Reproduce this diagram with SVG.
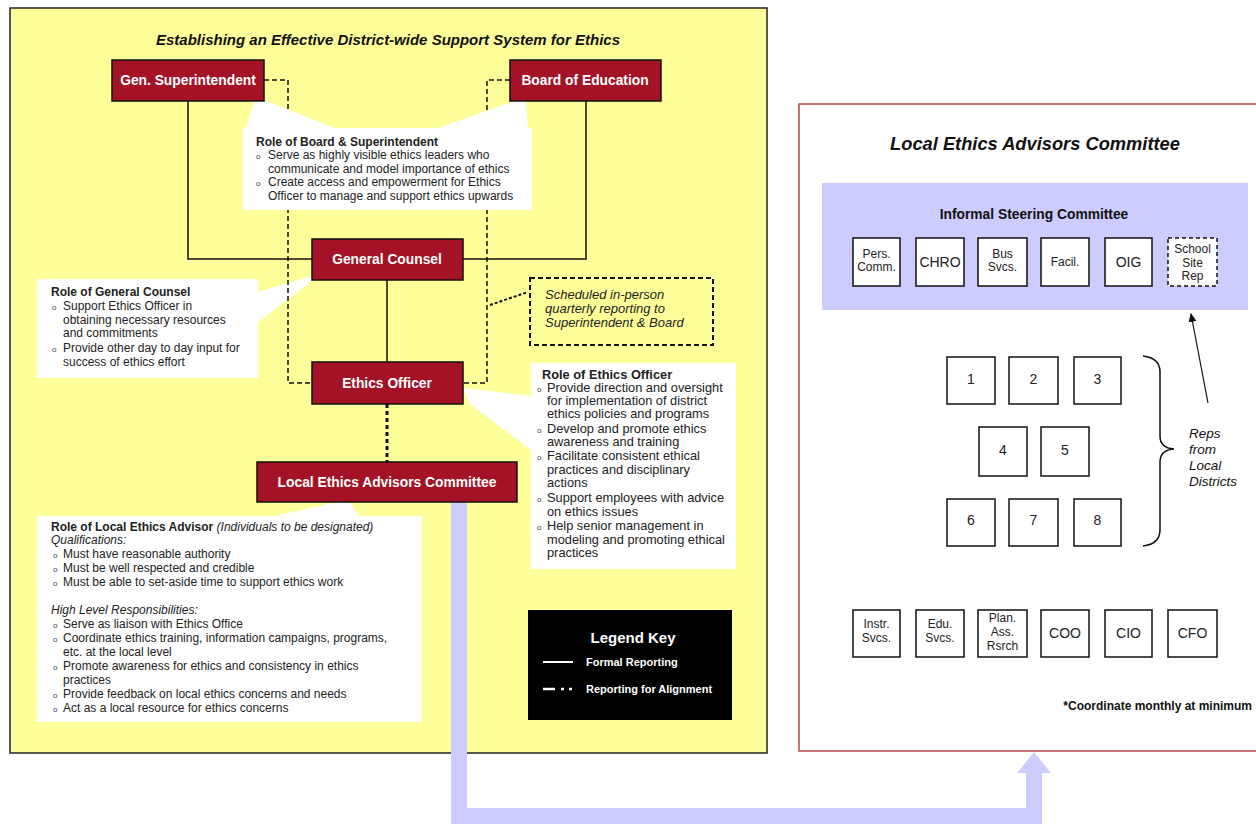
<svg xmlns="http://www.w3.org/2000/svg" width="1256" height="824" viewBox="0 0 1256 824">
<style>
text{font-family:"Liberation Sans",Arial,sans-serif;fill:#111}
.nodeR rect{fill:#A31225;stroke:#111;stroke-width:1.5}
.nodeR text{fill:#fff;font-weight:bold;font-size:13.8px;text-anchor:middle}
.note{fill:#fff}
.t{font-size:12px;fill:#222}
.te{font-size:12.8px;fill:#222}
.b{font-weight:bold}
.i{font-style:italic}
.bul{font-size:8px;fill:#444}
.sq rect{fill:#fff;stroke:#111;stroke-width:1.5}
.sq text{text-anchor:middle;font-size:12px;fill:#222}
.num{font-size:14px!important}
.big{font-size:14px!important}
.solid{fill:none;stroke:#111;stroke-width:1.5}
.dash{fill:none;stroke:#111;stroke-width:1.5;stroke-dasharray:5 3}
</style>
<defs>
<marker id="ah" markerWidth="10" markerHeight="10" refX="8" refY="5" orient="auto" markerUnits="userSpaceOnUse"><path d="M0,1 L9,5 L0,9 Z" fill="#111"/></marker>
</defs>
<rect width="1256" height="824" fill="#fff"/>
<!-- left panel -->
<rect id="panel-left" x="10" y="8" width="757" height="745" fill="#FFFF99" stroke="#222" stroke-width="1.5"/>
<text x="388" y="45" text-anchor="middle" class="b i" font-size="15">Establishing an Effective District-wide Support System for Ethics</text>
<!-- right panel -->
<rect id="panel-right" x="799" y="104" width="470" height="647" fill="#fff" stroke="#C0404A" stroke-width="1.5"/>
<text x="1035" y="150" text-anchor="middle" class="i" font-size="18.3" font-weight="bold">Local Ethics Advisors Committee</text>
<rect x="822" y="183" width="426" height="127" fill="#CCCCFF"/>
<text x="1034" y="219" text-anchor="middle" class="b" font-size="13.8">Informal Steering Committee</text>

<!-- notes under connectors -->
<g id="note-gc">
<polygon class="note" points="312,276 312,281 257,323 257,292"/>
<rect class="note" x="37" y="279" width="221" height="99"/>
<text x="51" y="296" class="t b">Role of General Counsel</text>
<text x="52" y="310" class="bul">o</text><text x="63" y="310" class="t">Support Ethics Officer in</text>
<text x="63" y="324" class="t">obtaining necessary resources</text>
<text x="63" y="337" class="t">and commitments</text>
<text x="52" y="352" class="bul">o</text><text x="63" y="352" class="t">Provide other day to day input for</text>
<text x="63" y="366" class="t">success of ethics effort</text>
</g>

<!-- connectors -->
<g id="connectors">
<polyline class="solid" points="188,101 188,259 312,259"/>
<polyline class="solid" points="586,101 586,259 463,259"/>
<line class="solid" x1="387" y1="280" x2="387" y2="362"/>
<polyline class="dash" points="264,80 288,80 288,383 312,383"/>
<polyline class="dash" points="510,80 487,80 487,383 463,383"/>
<line x1="387" y1="404" x2="387" y2="462" stroke="#111" stroke-width="3" stroke-dasharray="4 3"/>
<line x1="490" y1="305" x2="528" y2="292" stroke="#111" stroke-width="2" stroke-dasharray="3 2"/>
<path d="M459,502 V816 H1034 V772" fill="none" stroke="#CCCCFF" stroke-width="16"/>
<polygon points="1017,773 1051,773 1034,752" fill="#CCCCFF"/>
<line x1="1208" y1="403" x2="1191" y2="314" stroke="#111" stroke-width="1.2" marker-end="url(#ah)"/>
<path d="M1143,356 Q1160,358 1160,372 V436 Q1160,448 1174,449 Q1160,450 1160,462 V530 Q1160,544 1143,546" fill="none" stroke="#111" stroke-width="1.5"/>
</g>

<!-- callout notes -->
<g id="note-board">
<polygon class="note" points="254,101 266,101 335,128 246,128"/>
<polygon class="note" points="514,101 526,101 528,128 438,128"/>
<rect class="note" x="243" y="128" width="289" height="82"/>
<text x="256" y="146" class="t b">Role of Board &amp; Superintendent</text>
<text x="256" y="159" class="bul">o</text><text x="268" y="159" class="t">Serve as highly visible ethics leaders who</text>
<text x="268" y="173" class="t">communicate and model importance of ethics</text>
<text x="256" y="186" class="bul">o</text><text x="268" y="186" class="t">Create access and empowerment for Ethics</text>
<text x="268" y="200" class="t">Officer to manage and support ethics upwards</text>
</g>
<g id="note-eo">
<polygon class="note" points="463,388 531,396 531,450 470,404"/>
<rect class="note" x="531" y="363" width="205" height="206"/>
<text x="542" y="379" class="te b">Role of Ethics Officer</text>
<text x="537" y="392" class="bul">o</text><text x="547" y="392" class="te">Provide direction and oversight</text>
<text x="547" y="405" class="te">for implementation of district</text>
<text x="547" y="418" class="te">ethics policies and programs</text>
<text x="537" y="433" class="bul">o</text><text x="547" y="433" class="te">Develop and promote ethics</text>
<text x="547" y="446" class="te">awareness and training</text>
<text x="537" y="460" class="bul">o</text><text x="547" y="460" class="te">Facilitate consistent ethical</text>
<text x="547" y="474" class="te">practices and disciplinary</text>
<text x="547" y="487" class="te">actions</text>
<text x="537" y="502" class="bul">o</text><text x="547" y="502" class="te">Support employees with advice</text>
<text x="547" y="516" class="te">on ethics issues</text>
<text x="537" y="530" class="bul">o</text><text x="547" y="530" class="te">Help senior management in</text>
<text x="547" y="544" class="te">modeling and promoting ethical</text>
<text x="547" y="557" class="te">practices</text>
</g>
<g id="note-lea">
<polygon class="note" points="337,502 349,502 360,517 270,517"/>
<rect class="note" x="37" y="516" width="385" height="206"/>
<text x="51" y="531" class="t"><tspan class="b">Role of Local Ethics Advisor</tspan><tspan class="i"> (Individuals to be designated)</tspan></text>
<text x="51" y="544" class="t i">Qualifications:</text>
<text x="53" y="558" class="bul">o</text><text x="63" y="558" class="t">Must have reasonable authority</text>
<text x="53" y="572" class="bul">o</text><text x="63" y="572" class="t">Must be well respected and credible</text>
<text x="53" y="586" class="bul">o</text><text x="63" y="586" class="t">Must be able to set-aside time to support ethics work</text>
<text x="51" y="614" class="t i">High Level Responsibilities:</text>
<text x="53" y="628" class="bul">o</text><text x="63" y="628" class="t">Serve as liaison with Ethics Office</text>
<text x="53" y="642" class="bul">o</text><text x="63" y="642" class="t">Coordinate ethics training, information campaigns, programs,</text>
<text x="63" y="656" class="t">etc. at the local level</text>
<text x="53" y="670" class="bul">o</text><text x="63" y="670" class="t">Promote awareness for ethics and consistency in ethics</text>
<text x="63" y="684" class="t">practices</text>
<text x="53" y="698" class="bul">o</text><text x="63" y="698" class="t">Provide feedback on local ethics concerns and needs</text>
<text x="53" y="712" class="bul">o</text><text x="63" y="712" class="t">Act as a local resource for ethics concerns</text>
</g>
<g id="note-scheduled">
<rect x="530" y="278" width="183" height="67" fill="none" stroke="#111" stroke-width="2" stroke-dasharray="5 3"/>
<text x="545" y="299" class="i" font-size="13" style="fill:#222">Scheduled in-person</text>
<text x="545" y="313" class="i" font-size="13" style="fill:#222">quarterly reporting to</text>
<text x="545" y="327" class="i" font-size="13" style="fill:#222">Superintendent &amp; Board</text>
</g>

<!-- red nodes -->
<g id="gen-superintendent" class="nodeR"><rect x="112" y="60" width="152" height="41"/><text x="188" y="85">Gen. Superintendent</text></g>
<g id="board-of-education" class="nodeR"><rect x="510" y="60" width="151" height="41"/><text x="585" y="85">Board of Education</text></g>
<g id="general-counsel" class="nodeR"><rect x="312" y="239" width="151" height="41"/><text x="387" y="264">General Counsel</text></g>
<g id="ethics-officer" class="nodeR"><rect x="312" y="362" width="151" height="42"/><text x="387" y="388">Ethics Officer</text></g>
<g id="local-ethics-advisors-committee" class="nodeR"><rect x="257" y="462" width="260" height="40"/><text x="387" y="487">Local Ethics Advisors Committee</text></g>

<!-- legend -->
<g id="legend">
<rect x="528" y="610" width="204" height="110" fill="#000"/>
<text x="633" y="643" text-anchor="middle" font-size="15" font-weight="bold" style="fill:#fff">Legend Key</text>
<line x1="543" y1="662" x2="573" y2="662" stroke="#fff" stroke-width="2"/>
<text x="586" y="666" font-size="11" font-weight="bold" style="fill:#fff">Formal Reporting</text>
<line x1="543" y1="689" x2="555" y2="689" stroke="#fff" stroke-width="2.5"/>
<line x1="561" y1="689" x2="564" y2="689" stroke="#fff" stroke-width="2.5"/>
<line x1="569" y1="689" x2="572" y2="689" stroke="#fff" stroke-width="2.5"/>
<text x="586" y="693" font-size="11" font-weight="bold" style="fill:#fff">Reporting for Alignment</text>
</g>

<!-- steering committee boxes -->
<g id="pers-comm" class="sq"><rect x="853" y="238" width="47" height="48"/><text x="876.5" y="258">Pers.</text><text x="876.5" y="271">Comm.</text></g>
<g id="chro" class="sq"><rect x="916" y="238" width="48" height="48"/><text x="940" y="267" class="big">CHRO</text></g>
<g id="bus-svcs" class="sq"><rect x="978" y="238" width="49" height="48"/><text x="1002.5" y="258">Bus</text><text x="1002.5" y="271">Svcs.</text></g>
<g id="facil" class="sq"><rect x="1041" y="238" width="48" height="48"/><text x="1065" y="266">Facil.</text></g>
<g id="oig" class="sq"><rect x="1105" y="238" width="47" height="48"/><text x="1128.5" y="267" class="big">OIG</text></g>
<g id="school-site-rep" class="sq"><rect x="1168" y="238" width="49" height="48" style="stroke-dasharray:4 3"/><text x="1192.5" y="253">School</text><text x="1192.5" y="267">Site</text><text x="1192.5" y="280">Rep</text></g>

<!-- local district reps -->
<g id="rep-1" class="sq"><rect x="947" y="357" width="48" height="47"/><text x="971" y="384" class="num">1</text></g>
<g id="rep-2" class="sq"><rect x="1009" y="357" width="49" height="47"/><text x="1033.5" y="384" class="num">2</text></g>
<g id="rep-3" class="sq"><rect x="1074" y="357" width="47" height="47"/><text x="1097.5" y="384" class="num">3</text></g>
<g id="rep-4" class="sq"><rect x="979" y="427" width="48" height="49"/><text x="1003" y="455" class="num">4</text></g>
<g id="rep-5" class="sq"><rect x="1041" y="427" width="48" height="49"/><text x="1065" y="455" class="num">5</text></g>
<g id="rep-6" class="sq"><rect x="947" y="499" width="48" height="47"/><text x="971" y="525" class="num">6</text></g>
<g id="rep-7" class="sq"><rect x="1009" y="499" width="49" height="47"/><text x="1033.5" y="525" class="num">7</text></g>
<g id="rep-8" class="sq"><rect x="1074" y="499" width="47" height="47"/><text x="1097.5" y="525" class="num">8</text></g>
<g id="reps-label">
<text x="1189" y="438" class="i" font-size="13.5">Reps</text>
<text x="1189" y="454" class="i" font-size="13.5">from</text>
<text x="1189" y="470" class="i" font-size="13.5">Local</text>
<text x="1189" y="486" class="i" font-size="13.5">Districts</text>
</g>

<!-- bottom row -->
<g id="instr-svcs" class="sq"><rect x="853" y="610" width="47" height="47"/><text x="876.5" y="628">Instr.</text><text x="876.5" y="642">Svcs.</text></g>
<g id="edu-svcs" class="sq"><rect x="916" y="610" width="48" height="47"/><text x="940" y="628">Edu.</text><text x="940" y="642">Svcs.</text></g>
<g id="plan-ass-rsrch" class="sq"><rect x="978" y="610" width="49" height="47"/><text x="1002.5" y="622">Plan.</text><text x="1002.5" y="636">Ass.</text><text x="1002.5" y="650">Rsrch</text></g>
<g id="coo" class="sq"><rect x="1041" y="610" width="48" height="47"/><text x="1065" y="638" class="big">COO</text></g>
<g id="cio" class="sq"><rect x="1105" y="610" width="47" height="47"/><text x="1128.5" y="638" class="big">CIO</text></g>
<g id="cfo" class="sq"><rect x="1168" y="610" width="49" height="47"/><text x="1192.5" y="638" class="big">CFO</text></g>
<text x="1252" y="710" text-anchor="end" class="b" font-size="12">*Coordinate monthly at minimum</text>
</svg>
